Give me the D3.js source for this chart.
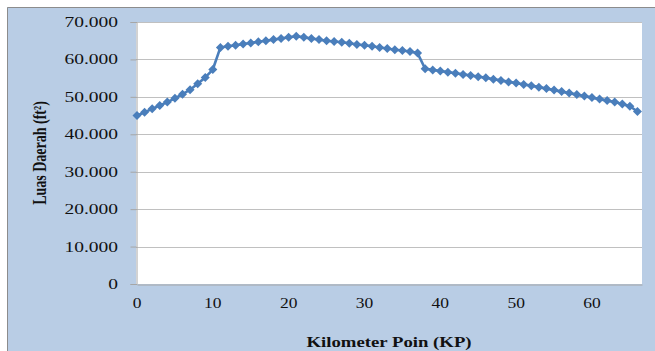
<!DOCTYPE html>
<html>
<head>
<meta charset="utf-8">
<script src="https://cdn.jsdelivr.net/npm/d3@7"></script>
<style>
  html, body { margin: 0; padding: 0; background: #fff; }
  svg { display: block; }
  text { font-family: "Liberation Serif", "Times New Roman", serif; fill: #111; }
</style>
</head>
<body>
<div id="chart"></div>
<script>
// KP stations (km) and area values (ft2)
const kp = [0, 1, 2, 3, 4, 5, 6, 7, 8, 9, 10,
  11, 12, 13, 14, 15, 16, 17, 18, 19, 20, 21,
  22, 23, 24, 25, 26, 27, 28, 29, 30, 31, 32, 33, 34, 35, 36, 37,
  38, 39, 40, 41, 42, 43, 44, 45, 46, 47, 48, 49, 50, 51, 52,
  53, 54, 55, 56, 57, 58, 59, 60, 61, 62, 63, 64, 65, 66];

const luas = [45000, 45900, 46800, 47700, 48600, 49600, 50700, 51900, 53500, 55200, 57300,
  63200, 63500, 63800, 64100, 64400, 64700, 65000, 65300, 65600, 65900, 66200,
  65900, 65600, 65300, 65000, 64800, 64600, 64300, 64000, 63800, 63500, 63200, 62900, 62600, 62400, 62100, 61700,
  57500, 57200, 56900, 56600, 56300, 56000, 55700, 55400, 55100, 54700, 54400, 54000, 53700, 53300, 53000,
  52600, 52200, 51800, 51400, 51000, 50600, 50200, 49800, 49400, 49000, 48600, 48100, 47500, 46100];

const yTicks = [0, 10000, 20000, 30000, 40000, 50000, 60000, 70000];
const xTicks = [0, 10, 20, 30, 40, 50, 60];

const width = 655, height = 351;
const plot = { left: 136, right: 642, top: 22, bottom: 284 };

const svg = d3.select("#chart").append("svg")
  .attr("width", width)
  .attr("height", height);

// chart area background
svg.append("rect")
  .attr("x", 7).attr("y", 7)
  .attr("width", width - 7).attr("height", height - 7)
  .attr("fill", "#b9cde5");
svg.append("path")
  .attr("d", `M7.5,${height} V7.5 H${width}`)
  .attr("fill", "none")
  .attr("stroke", "#8c8c8c")
  .attr("stroke-width", 1);

// plot area
svg.append("rect")
  .attr("x", plot.left).attr("y", plot.top)
  .attr("width", plot.right - plot.left).attr("height", plot.bottom - plot.top)
  .attr("fill", "#fff");

const x = d3.scaleLinear().domain([0, 66.6]).range([plot.left + 1, plot.right]);
const y = d3.scaleLinear().domain([0, 70000]).range([plot.bottom, plot.top]);

const fmt = d => d === 0 ? "0" : d3.format(",")(d).replace(/,/g, ".");

// gridlines
svg.append("g")
  .selectAll("line")
  .data(yTicks.filter(d => d > 0))
  .enter()
  .append("line")
  .attr("x1", plot.left).attr("x2", plot.right)
  .attr("y1", d => Math.round(y(d)) + 0.5)
  .attr("y2", d => Math.round(y(d)) + 0.5)
  .attr("stroke", "#c0c0c0")
  .attr("stroke-width", 1.2);

// y axis
const yAxis = svg.append("g")
  .attr("transform", `translate(${plot.left + 0.5},0)`)
  .call(d3.axisLeft(y).tickValues(yTicks).tickSize(6).tickFormat(""));
yAxis.select(".domain").attr("stroke", "#a6a6a6");
yAxis.selectAll(".tick line").attr("stroke", "#a6a6a6");

svg.append("g")
  .selectAll("text")
  .data(yTicks)
  .enter()
  .append("text")
  .attr("transform", d => `translate(118,${y(d) + 5}) scale(1.3,1)`)
  .attr("text-anchor", "end")
  .attr("font-size", 15)
  .text(fmt);

// x axis
const xAxis = svg.append("g")
  .attr("transform", `translate(0,${plot.bottom + 0.5})`)
  .call(d3.axisBottom(x).tickValues(xTicks).tickSize(0).tickFormat(""));
xAxis.select(".domain").attr("stroke", "#a6a6a6");

svg.append("g")
  .selectAll("text")
  .data(xTicks)
  .enter()
  .append("text")
  .attr("transform", d => `translate(${x(d)},${308}) scale(1.25,1)`)
  .attr("text-anchor", "middle")
  .attr("font-size", 14)
  .text(d => d);

// axis titles
svg.append("text")
  .attr("transform", `translate(389,347) scale(1.25,1)`)
  .attr("text-anchor", "middle")
  .attr("font-size", 15)
  .attr("font-weight", "bold")
  .text("Kilometer Poin (KP)");

svg.append("text")
  .attr("transform", `translate(46,153) scale(1.3,1) rotate(-90)`)
  .attr("text-anchor", "middle")
  .attr("font-size", 14)
  .attr("font-weight", "bold")
  .text("Luas Daerah (ft²)");

// series
const data = kp.map((k, i) => ({ kp: k, v: luas[i] }));
const blue = "#4a7ebb";

svg.append("path")
  .datum(data)
  .attr("fill", "none")
  .attr("stroke", blue)
  .attr("stroke-width", 2.6)
  .attr("stroke-linejoin", "round")
  .attr("d", d3.line().x(d => x(d.kp)).y(d => y(d.v)));

svg.append("g")
  .selectAll("path")
  .data(data)
  .enter()
  .append("path")
  .attr("transform", d => `translate(${x(d.kp)},${y(d.v)})`)
  .attr("d", "M0,-4.5 L4.5,0 L0,4.5 L-4.5,0 Z")
  .attr("fill", blue);
</script>
</body>
</html>
